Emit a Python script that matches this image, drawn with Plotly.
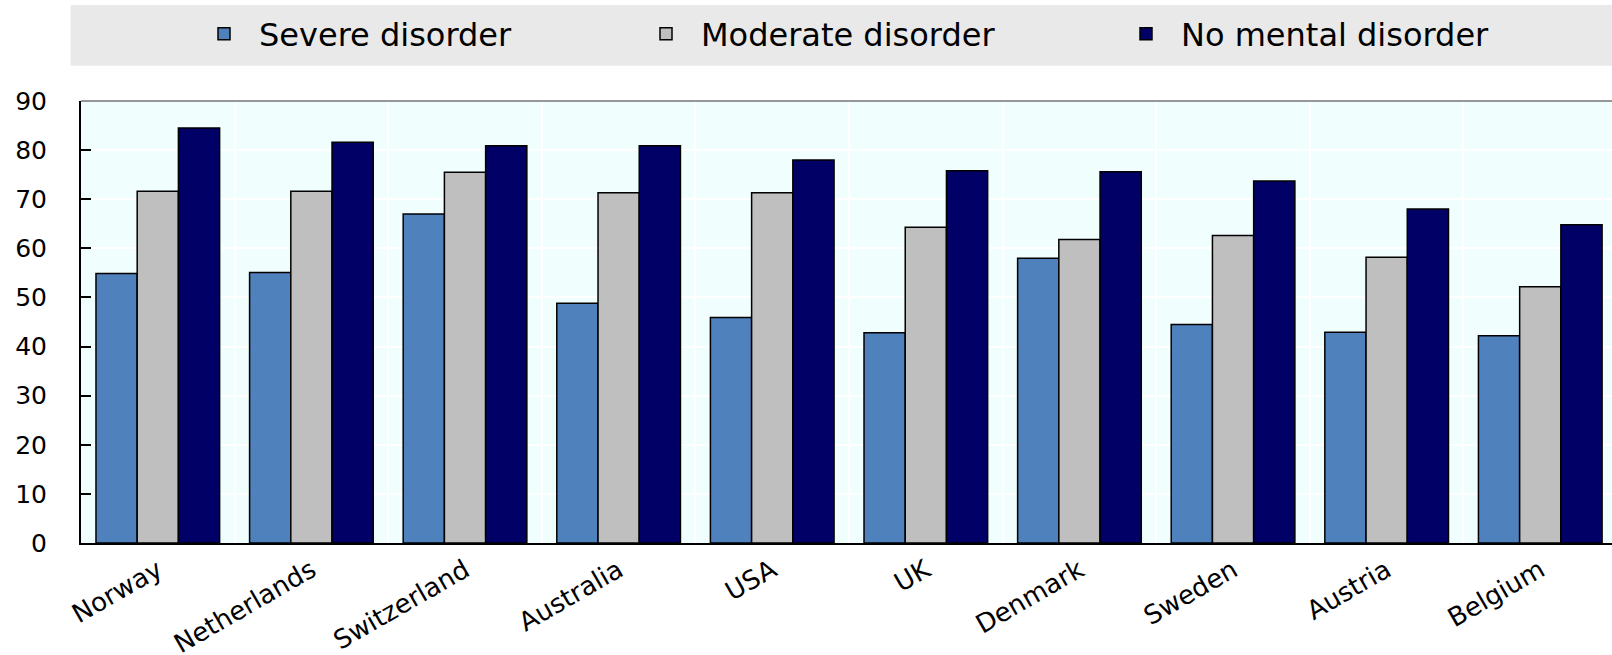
import plotly.graph_objects as go

countries = ["Norway", "Netherlands", "Switzerland", "Australia", "USA",
             "UK", "Denmark", "Sweden", "Austria", "Belgium"]
severe = [54.9, 55.1, 67.0, 48.8, 45.9, 42.8, 58.0, 44.5, 42.9, 42.2]
moderate = [71.6, 71.6, 75.5, 71.3, 71.3, 64.3, 61.8, 62.6, 58.2, 52.2]
no_disorder = [84.5, 81.6, 80.9, 80.9, 78.0, 75.8, 75.6, 73.7, 68.0, 64.8]

series_names = ["Severe disorder", "Moderate disorder", "No mental disorder"]
series_values = [severe, moderate, no_disorder]
series_colors = ["#4F81BD", "#BFBFBF", "#000066"]
legend_ids = ["legend", "legend2", "legend3"]

FONT = "DejaVu Sans"
W, H = 1612, 655
ML, MR, MT, MB = 81, 0, 101, 112
plot_w = W - ML - MR
plot_h = H - MT - MB

fig = go.Figure()
for name, vals, col, lg in zip(series_names, series_values, series_colors, legend_ids):
    fig.add_trace(go.Bar(
        x=countries, y=vals, name=name, legend=lg,
        marker=dict(color=col, line=dict(color="#000000", width=1.5)),
    ))

def px_to_paper_x(px):
    return (px - ML) / plot_w

def px_to_paper_y(py):
    return (H - MB - py) / plot_h

legend_lefts = [189, 631, 1111]
legend_common = dict(orientation="h", xanchor="left", yanchor="middle",
                     y=px_to_paper_y(34), bgcolor="rgba(0,0,0,0)",
                     itemwidth=60,
                     font=dict(family=FONT, size=32, color="#000000"))
layout_legends = {}
for lg, lx in zip(legend_ids, legend_lefts):
    layout_legends[lg] = dict(x=px_to_paper_x(lx), **legend_common)

fig.update_layout(
    width=W, height=H,
    margin=dict(l=ML, r=MR, t=MT, b=MB, pad=0, autoexpand=False),
    paper_bgcolor="#FFFFFF",
    plot_bgcolor="#F0FEFE",
    barmode="group",
    bargap=0.195,
    bargroupgap=0,
    showlegend=True,
    font=dict(family=FONT, color="#000000"),
    shapes=[
        dict(type="rect", xref="paper", yref="paper",
             x0=px_to_paper_x(70.7), x1=1.02,
             y0=px_to_paper_y(65.7), y1=px_to_paper_y(5),
             fillcolor="#E9E9E9", line=dict(width=0), layer="below"),
        dict(type="line", xref="paper", yref="paper",
             x0=0, x1=1.02, y0=1, y1=1,
             line=dict(color="#333333", width=1.2), layer="above"),
    ],
    xaxis=dict(
        type="category",
        range=[-0.5, 9.467],
        automargin=False,
        showgrid=True, gridcolor="#FFFFFF", gridwidth=1.5,
        tickson="boundaries",
        ticks="", showline=True, linecolor="#000000", linewidth=2,
        mirror=False,
        tickangle=-30,
        tickfont=dict(family=FONT, size=26, color="#000000"),
    ),
    yaxis=dict(
        range=[0, 90],
        automargin=False,
        tickvals=[0, 10, 20, 30, 40, 50, 60, 70, 80, 90],
        showgrid=True, gridcolor="#FFFFFF", gridwidth=1.5,
        zeroline=False,
        ticks="inside", ticklen=10, tickwidth=1.5, tickcolor="#000000",
        showline=True, linecolor="#000000", linewidth=2,
        ticklabelstandoff=27,
        tickfont=dict(family=FONT, size=25, color="#000000"),
    ),
    **layout_legends,
)

fig.write_html(
    "out.html",
    config={"displayModeBar": False},
    post_script="document.body.style.margin='0';document.body.style.overflow='hidden';",
)
